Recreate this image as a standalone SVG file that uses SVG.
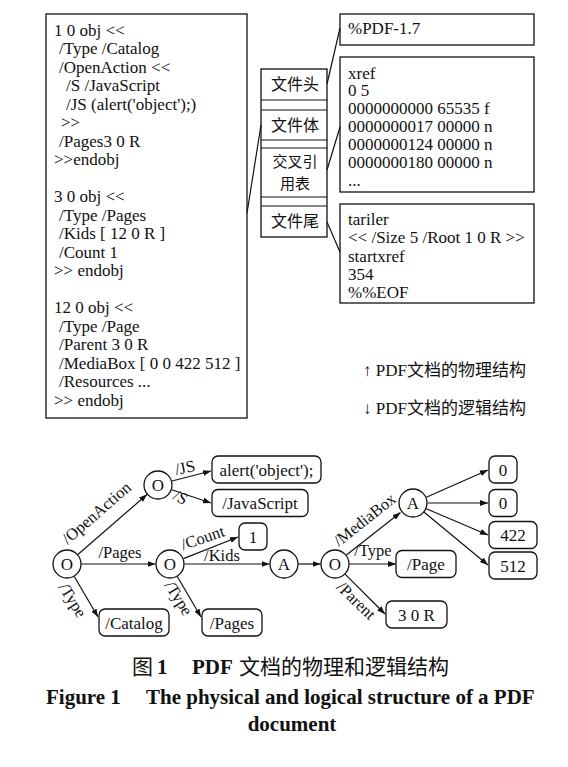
<svg xmlns="http://www.w3.org/2000/svg" width="568" height="767" viewBox="0 0 568 767">
<style>
.t{font-family:"Liberation Serif","Times New Roman","Noto Sans CJK SC",serif;font-size:17px;fill:#111}
.cjk{font-family:"Noto Sans CJK SC",sans-serif;font-size:16px;fill:#111}
.box{fill:#fff;stroke:#111;stroke-width:1.3}
.ln{stroke:#111;stroke-width:1.2;fill:none}
.edge{stroke:#111;stroke-width:1.2;fill:none;marker-end:url(#arr)}
.lbl{font-family:"Liberation Serif","Times New Roman",serif;font-size:16.5px;fill:#111}
.c{text-anchor:middle}
.cap{font-family:"Liberation Serif","Times New Roman",serif;font-weight:bold;font-size:21px;fill:#111}
.capc{font-family:"Noto Sans CJK SC",sans-serif;font-size:21px;fill:#111}
</style>
<defs>
<marker id="arr" markerUnits="userSpaceOnUse" markerWidth="8" markerHeight="6" refX="8" refY="3" orient="auto">
<path d="M0,0 L8,3 L0,6 z" fill="#111"/>
</marker>
</defs>
<rect width="568" height="767" fill="#fff"/>

<g id="objects">
<rect class="box" x="46" y="14" width="201" height="404"/>
<text class="t">
<tspan x="54" y="35.5">1 0 obj &lt;&lt;</tspan>
<tspan x="59" y="54">/Type /Catalog</tspan>
<tspan x="59" y="72.5">/OpenAction &lt;&lt;</tspan>
<tspan x="66" y="91">/S /JavaScript</tspan>
<tspan x="66" y="109.5">/JS (alert('object');)</tspan>
<tspan x="61" y="128">&gt;&gt;</tspan>
<tspan x="59" y="146.5">/Pages3 0 R</tspan>
<tspan x="54" y="165">&gt;&gt;endobj</tspan>
<tspan x="54" y="202">3 0 obj &lt;&lt;</tspan>
<tspan x="59" y="220.5">/Type /Pages</tspan>
<tspan x="59" y="239">/Kids [ 12 0 R ]</tspan>
<tspan x="59" y="257.5">/Count 1</tspan>
<tspan x="54" y="276">&gt;&gt; endobj</tspan>
<tspan x="54" y="313">12 0 obj &lt;&lt;</tspan>
<tspan x="59" y="331.5">/Type /Page</tspan>
<tspan x="59" y="350">/Parent 3 0 R</tspan>
<tspan x="59" y="368.5">/MediaBox [ 0 0 422 512 ]</tspan>
<tspan x="59" y="387">/Resources ...</tspan>
<tspan x="54" y="405.5">&gt;&gt; endobj</tspan>
</text>
</g>

<g id="file-structure">
<rect class="box" x="261" y="69" width="66" height="168"/>
<line class="ln" x1="261" y1="100" x2="327" y2="100"/>
<line class="ln" x1="261" y1="110" x2="327" y2="110"/>
<line class="ln" x1="261" y1="140" x2="327" y2="140"/>
<line class="ln" x1="261" y1="148" x2="327" y2="148"/>
<line class="ln" x1="261" y1="197" x2="327" y2="197"/>
<line class="ln" x1="261" y1="206" x2="327" y2="206"/>
<text class="cjk c" x="295" y="90">文件头</text>
<text class="cjk c" x="295" y="131">文件体</text>
<text class="cjk c" style="font-size:15px"><tspan x="295" y="166.5">交叉引</tspan><tspan x="295" y="188.5">用表</tspan></text>
<text class="cjk c" x="295" y="226.5">文件尾</text>
</g>

<g id="header">
<rect class="box" x="340" y="14" width="194" height="31"/>
<text class="t" x="348" y="33.5">%PDF-1.7</text>
</g>

<g id="xref">
<rect class="box" x="340" y="57" width="194" height="135"/>
<text class="t">
<tspan x="348" y="78.5">xref</tspan>
<tspan x="348" y="96.4">0 5</tspan>
<tspan x="348" y="114.3">0000000000 65535 f</tspan>
<tspan x="348" y="132.2">0000000017 00000 n</tspan>
<tspan x="348" y="150.1">0000000124 00000 n</tspan>
<tspan x="348" y="168">0000000180 00000 n</tspan>
<tspan x="348" y="185.9">...</tspan>
</text>
</g>

<g id="trailer">
<rect class="box" x="340" y="204" width="194" height="99"/>
<text class="t">
<tspan x="348" y="225">tariler</tspan>
<tspan x="348" y="243.3">&lt;&lt; /Size 5 /Root 1 0 R &gt;&gt;</tspan>
<tspan x="348" y="261.6">startxref</tspan>
<tspan x="348" y="279.9">354</tspan>
<tspan x="348" y="298.2">%%EOF</tspan>
</text>
</g>

<g id="legend">
<text class="t" x="363" y="376">↑ PDF文档的物理结构</text>
<text class="t" x="363" y="414">↓ PDF文档的逻辑结构</text>
</g>

<g id="top-connectors">
<line class="ln" x1="327" y1="84" x2="340" y2="28"/>
<line class="ln" x1="261" y1="125" x2="247" y2="213"/>
<line class="ln" x1="327" y1="170" x2="340" y2="127"/>
<line class="ln" x1="327" y1="222" x2="340" y2="252"/>
</g>

<g id="connectors">
<line class="edge" x1="77.9" y1="554.5" x2="147" y2="494.5"/>
<line class="edge" x1="81.5" y1="564" x2="155.5" y2="564"/>
<line class="edge" x1="74.3" y1="576.5" x2="98" y2="617"/>
<line class="edge" x1="172" y1="481" x2="211" y2="471"/>
<line class="edge" x1="171.7" y1="489.7" x2="211" y2="503"/>
<line class="edge" x1="183.5" y1="558.6" x2="238" y2="537"/>
<line class="edge" x1="184.5" y1="564" x2="269.5" y2="564"/>
<line class="edge" x1="177.3" y1="576.5" x2="201" y2="617"/>
<line class="edge" x1="298.5" y1="564" x2="320.5" y2="564"/>
<line class="edge" x1="346.4" y1="555" x2="400.5" y2="512.5"/>
<line class="edge" x1="349.5" y1="564" x2="396" y2="564"/>
<line class="edge" x1="345.3" y1="574.3" x2="385" y2="614"/>
<line class="edge" x1="426.3" y1="497.2" x2="488" y2="470"/>
<line class="edge" x1="427.5" y1="503" x2="488" y2="503"/>
<line class="edge" x1="426.3" y1="508.7" x2="488" y2="535"/>
<line class="edge" x1="424.2" y1="512.2" x2="488" y2="565"/>
<text class="lbl c" transform="translate(100,517) rotate(-41)">/OpenAction</text>
<text class="lbl c" x="120" y="558">/Pages</text>
<text class="lbl c" transform="translate(68,603) rotate(58)">/Type</text>
<text class="lbl c" transform="translate(186,473) rotate(-12)">/JS</text>
<text class="lbl c" transform="translate(178,502) rotate(28)">/S</text>
<text class="lbl c" transform="translate(204.5,543) rotate(-19)">/Count</text>
<text class="lbl c" x="222" y="561">/Kids</text>
<text class="lbl c" transform="translate(174,601) rotate(58)">/Type</text>
<text class="lbl c" transform="translate(368,524) rotate(-38.5)">/MediaBox</text>
<text class="lbl c" x="373" y="556">/Type</text>
<text class="lbl c" transform="translate(352.5,604.5) rotate(44)">/Parent</text>
</g>

<g id="n-root"><circle class="box" cx="67" cy="564" r="14"/><text class="t c" x="67" y="569.5">O</text></g>
<g id="n-openaction"><circle class="box" cx="158" cy="485" r="14"/><text class="t c" x="158" y="490.5">O</text></g>
<g id="n-pages"><circle class="box" cx="170" cy="564" r="14"/><text class="t c" x="170" y="569.5">O</text></g>
<g id="n-kids"><circle class="box" cx="284" cy="564" r="14"/><text class="t c" x="284" y="569.5">A</text></g>
<g id="n-page"><circle class="box" cx="335" cy="564" r="14"/><text class="t c" x="335" y="569.5">O</text></g>
<g id="n-mediabox"><circle class="box" cx="413" cy="503" r="14"/><text class="t c" x="413" y="508.5">A</text></g>

<g id="v-alert"><rect class="box" x="212" y="456" width="109" height="27" rx="6"/><text class="t c" x="266.5" y="475.5">alert('object');</text></g>
<g id="v-javascript"><rect class="box" x="212" y="489.5" width="96" height="27" rx="6"/><text class="t c" x="260" y="509">/JavaScript</text></g>
<g id="v-count"><rect class="box" x="239" y="523" width="28" height="27" rx="6"/><text class="t c" x="253" y="542.5">1</text></g>
<g id="v-catalog"><rect class="box" x="99" y="609" width="70" height="27" rx="6"/><text class="t c" x="134" y="628.5">/Catalog</text></g>
<g id="v-pages"><rect class="box" x="202" y="609" width="60" height="27" rx="6"/><text class="t c" x="232" y="628.5">/Pages</text></g>
<g id="v-page"><rect class="box" x="396" y="550.5" width="60" height="27" rx="6"/><text class="t c" x="426" y="570">/Page</text></g>
<g id="v-parent"><rect class="box" x="386" y="601" width="61" height="27" rx="6"/><text class="t c" x="416.5" y="620.5">3 0 R</text></g>
<g id="v-m0a"><rect class="box" x="489" y="456" width="28" height="27" rx="6"/><text class="t c" x="503" y="475.5">0</text></g>
<g id="v-m0b"><rect class="box" x="489" y="489.5" width="28" height="27" rx="6"/><text class="t c" x="503" y="509">0</text></g>
<g id="v-m422"><rect class="box" x="489" y="521.5" width="48" height="27" rx="6"/><text class="t c" x="513" y="541">422</text></g>
<g id="v-m512"><rect class="box" x="489" y="552" width="48" height="27" rx="6"/><text class="t c" x="513" y="571.5">512</text></g>

<g id="caption">
<text y="674"><tspan class="capc" x="132">图</tspan><tspan class="cap" x="157">1</tspan><tspan class="cap" x="192">PDF</tspan><tspan class="capc" x="239">文档的物理和逻辑结构</tspan></text>
<text class="cap" y="703.5"><tspan x="46">Figure 1</tspan><tspan x="146">The physical and logical structure of a PDF</tspan></text>
<text class="cap c" x="292" y="730.5">document</text>
</g>
</svg>
